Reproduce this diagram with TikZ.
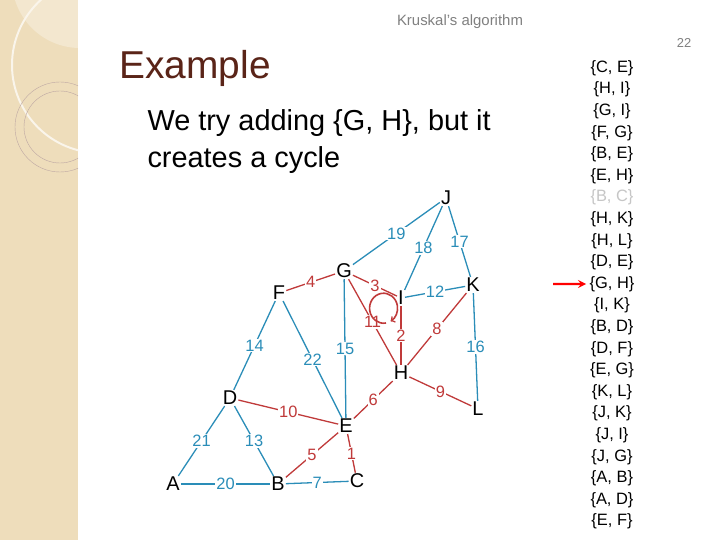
\documentclass[tikz,border=0pt]{standalone}
\usepackage{fontspec}
\setmainfont{Liberation Sans}
\definecolor{eblue}{HTML}{2A8DB8}
\definecolor{ered}{HTML}{C03A3A}
\definecolor{beige}{HTML}{EEDDBB}
\definecolor{brown}{HTML}{5A2418}
\tikzset{
  vtx/.style={inner sep=1pt,font=\fontsize{20}{20}\selectfont},
  bl/.style={eblue,line width=1.3pt},
  rd/.style={ered,line width=1.3pt},
  wt/.style={midway,fill=white,inner sep=1pt,font=\fontsize{16.5}{16.5}\selectfont},
  itm/.style={font=\fontsize{16.5}{16.5}\selectfont}
}
\begin{document}
\begin{tikzpicture}[x=1bp,y=-1bp]
\useasboundingbox (0,0) rectangle (720,540);
\fill[white] (0,0) rectangle (720,540);
% sidebar
\fill[beige] (0,0) rectangle (78,540);
\begin{scope}
\clip (0,0) rectangle (78,540);
\fill[white,opacity=0.3] (80,-20) circle (68);
\draw[white!70!beige,line width=2pt] (100,65) circle (88);
\draw[brown!40,line width=0.4pt] (60,127) circle (45);
\draw[brown!40,line width=0.4pt] (60,127) circle (36);
\end{scope}
% header
\node[gray,font=\fontsize{15}{15}\selectfont] (hd) at (460,22) {Kruskal's algorithm};
\node[gray,font=\fontsize{13}{13}\selectfont] (pg) at (684,43) {22};
\node[brown,font=\fontsize{39}{39}\selectfont,anchor=west] (ttl) at (116,68) {Example};
\node[anchor=north west,align=left,font=\fontsize{29}{37}\selectfont] (txt) at (144,106) {We try adding \{G, H\}, but it\\creates a cycle};
% vertices
\node[vtx] (J) at (446,198) {J};
\node[vtx] (G) at (344,271) {G};
\node[vtx] (F) at (279,293) {F};
\node[vtx] (I) at (401,298) {I};
\node[vtx] (K) at (473,285) {K};
\node[vtx] (H) at (401,373) {H};
\node[vtx] (D) at (230,398) {D};
\node[vtx] (E) at (346,426) {E};
\node[vtx] (L) at (478,409) {L};
\node[vtx] (A) at (173,484) {A};
\node[vtx] (B) at (278,484) {B};
\node[vtx] (C) at (357,481) {C};
% edges
\draw[bl] (J) -- node[wt] {19} (G);
\draw[bl] (J) -- node[wt] {18} (I);
\draw[bl] (J) -- node[wt] {17} (K);
\draw[bl] (I) -- node[wt] {12} (K);
\draw[bl] (K) -- node[wt] {16} (L);
\draw[bl] (F) -- node[wt] {14} (D);
\draw[bl] (F) -- node[wt] {22} (E);
\draw[bl] (G) -- node[wt] {15} (E);
\draw[bl] (D) -- node[wt] {21} (A);
\draw[bl] (D) -- node[wt] {13} (B);
\draw[bl] (A) -- node[wt] {20} (B);
\draw[bl] (B) -- node[wt] {7} (C);
\draw[rd] (F) -- node[wt] {4} (G);
\draw[rd] (G) -- node[wt] {3} (I);
\draw[rd] (G) -- node[wt] {11} (H);
\draw[rd] (I) -- node[wt] {2} (H);
\draw[rd] (K) -- node[wt] {8} (H);
\draw[rd] (H) -- node[wt] {9} (L);
\draw[rd] (H) -- node[wt] {6} (E);
\draw[rd] (D) -- node[wt] {10} (E);
\draw[rd] (E) -- node[wt] {5} (B);
\draw[rd] (E) -- node[wt] {1} (C);
% cycle mark
\draw[ered,line width=1.6pt,->] (386,323) arc (80:420:14 and 15);
% edge list
\foreach \e [count=\i] in {{C, E},{H, I},{G, I},{F, G},{B, E},{E, H},{B, C},{H, K},{H, L},{D, E},{G, H},{I, K},{B, D},{D, F},{E, G},{K, L},{J, K},{J, I},{J, G},{A, B},{A, D},{E, F}}{
  \ifnum\i=7 \def\ic{gray!45}\else\def\ic{black}\fi
  \node[itm,text=\ic] (e\i) at (612,{68+(\i-1)*21.6}) {\{\e\}};
}
\coordinate (ar) at (553,284);
\draw[red,line width=2.5pt,-stealth] (ar) -- (e11.west);
\end{tikzpicture}
\end{document}
